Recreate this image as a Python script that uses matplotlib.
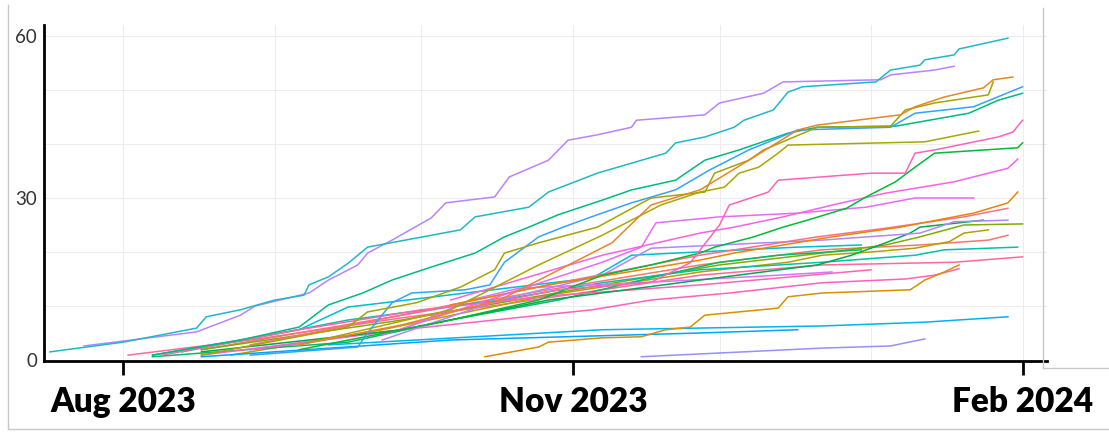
import matplotlib
matplotlib.use("Agg")
import matplotlib.pyplot as plt
import matplotlib.dates as mdates
from matplotlib.ticker import MultipleLocator, FixedLocator
from matplotlib.lines import Line2D
import pandas as pd

# cumulative count per person, as (days since 1 Aug 2023, running total)
a = [(-15, 1.5), (0, 3.3), (15, 5.9), (17, 8.0), (24, 9.3), (31, 11.1), (37, 12.0), (38, 13.9),
     (42, 15.4), (46, 17.9), (50, 20.9), (69, 24.1), (72, 26.5), (83, 28.3), (87, 31.1),
     (97, 34.6), (111, 38.3), (113, 40.2), (119, 41.3), (125, 43.1), (127, 44.4), (133, 46.3),
     (136, 49.6), (139, 50.6), (154, 51.5), (157, 53.7), (163, 54.6), (164, 55.6), (170, 56.5),
     (171, 57.6), (181, 59.6)]
b = [(-8, 2.6), (15, 5.2), (24, 8.3), (27, 10.0), (38, 12.4), (42, 14.8), (48, 17.6), (50, 19.8),
     (55, 22.2), (63, 26.3), (66, 29.1), (76, 30.2), (79, 33.9), (87, 37.0), (91, 40.7),
     (97, 41.7), (104, 43.1), (105, 44.4), (119, 45.4), (122, 47.6), (131, 49.4), (135, 51.5),
     (155, 51.9), (157, 52.8), (166, 53.7), (170, 54.4)]
c = [(36, 2.8), (57, 6.5), (77, 11.1), (87, 15.7), (100, 21.7), (108, 28.7), (118, 31.5),
     (122, 33.7), (128, 37.0), (138, 42.6), (142, 43.5), (159, 45.4), (162, 46.9), (168, 48.7),
     (176, 50.4), (178, 51.9), (182, 52.4)]
d = [(16, 0.9), (46, 6.1), (50, 8.9), (60, 10.6), (69, 13.5), (76, 16.7), (78, 19.8), (85, 21.7),
     (97, 24.6), (108, 30.0), (119, 31.1), (121, 34.6), (128, 37.0), (131, 38.9), (142, 43.1),
     (157, 43.3), (160, 46.3), (166, 47.6), (177, 49.1), (178, 51.5)]
e = [(26, 0.9), (48, 2.4), (50, 5.0), (55, 10.6), (59, 12.4), (70, 13.0), (75, 13.9), (78, 18.1),
     (85, 22.8), (90, 24.6), (97, 26.9), (104, 29.1), (113, 31.5), (120, 35.2), (128, 38.9),
     (138, 42.6), (157, 43.1), (162, 45.7), (174, 46.9), (184, 50.6)]
f = [(6, 0.9), (24, 3.7), (36, 6.1), (42, 10.2), (49, 12.4), (55, 14.8), (63, 17.2), (72, 19.8),
     (78, 22.8), (83, 24.6), (89, 26.9), (98, 29.6), (104, 31.5), (113, 33.3), (119, 37.0),
     (126, 38.9), (136, 42.0), (142, 43.1), (158, 43.3), (173, 45.7), (179, 48.1), (184, 49.4)]
g = [(36, 2.8), (67, 9.3), (85, 17.6), (98, 23.1), (110, 28.7), (118, 31.1), (123, 32.0),
     (126, 34.6), (130, 35.7), (134, 38.3), (136, 39.8), (164, 40.4), (175, 42.4)]
h = [(63, 8.3), (89, 13.0), (108, 14.4), (116, 18.0), (122, 25.0), (124, 28.7), (132, 31.1),
     (134, 33.3), (153, 34.6), (160, 34.6), (162, 38.3), (166, 38.9), (179, 41.3), (182, 42.2),
     (184, 44.4)]
i = [(36, 1.9), (67, 7.4), (85, 11.1), (98, 15.7), (108, 17.6), (118, 19.8), (121, 20.9),
     (129, 22.8), (135, 24.6), (140, 25.9), (148, 28.1), (152, 30.2), (158, 33.0), (162, 35.7),
     (164, 37.0), (166, 38.3), (183, 39.3), (184, 40.2)]
j = [(67, 11.1), (98, 19.4), (118, 23.5), (125, 24.6), (135, 26.5), (147, 29.1), (156, 30.9),
     (170, 33.0), (177, 34.6), (181, 35.5), (183, 37.2)]
k = [(53, 4.6), (81, 13.0), (98, 18.1), (106, 20.9), (109, 25.4), (122, 26.5), (138, 27.2),
     (152, 28.3), (162, 30.0), (174, 30.0)]
l = [(67, 10.2), (87, 13.9), (106, 16.7), (118, 18.5), (125, 19.8), (135, 21.3), (145, 22.8),
     (159, 24.6), (174, 27.2), (181, 29.1), (183, 31.1)]
m = [(8, 0.9), (36, 5.6), (61, 9.3), (89, 12.0), (118, 13.9), (153, 16.7)]
n = [(26, 2.8), (57, 8.3), (87, 13.9), (118, 19.4), (142, 22.8), (156, 24.4), (172, 26.5),
     (181, 28.1)]
o = [(16, 1.5), (57, 5.6), (87, 11.1), (118, 14.8), (142, 17.6), (149, 19.4), (156, 21.7),
     (161, 23.5), (163, 24.6), (176, 25.9)]
p = [(53, 3.7), (77, 11.1), (98, 15.7), (108, 20.7), (143, 22.2), (163, 23.5), (170, 25.6),
     (181, 25.9)]
q = [(16, 1.9), (57, 7.4), (98, 13.9), (122, 17.6), (143, 19.8), (156, 21.3), (163, 22.8),
     (172, 25.0), (184, 25.2)]
r = [(22, 0.9), (53, 5.6), (87, 12.0), (118, 16.3), (136, 18.1), (143, 19.4), (153, 20.0),
     (162, 20.7), (169, 21.9), (172, 23.5), (177, 24.1)]
s = [(16, 1.9), (57, 8.3), (87, 13.0), (118, 17.6), (143, 20.4), (163, 21.3), (177, 22.2),
     (181, 23.1)]
t = [(12, 1.5), (46, 7.4), (77, 11.1), (98, 14.3), (118, 16.7), (143, 18.1), (162, 19.4),
     (168, 20.4), (183, 20.9)]
u = [(1, 0.9), (26, 3.7), (57, 7.8), (77, 10.2), (98, 13.0), (118, 15.7), (143, 17.6),
     (170, 18.1), (184, 19.1)]
v = [(74, 0.6), (85, 2.4), (87, 3.3), (98, 4.1), (106, 4.3), (111, 5.6), (116, 6.1), (119, 8.3),
     (134, 9.6), (136, 11.7), (143, 12.4), (161, 13.0), (164, 14.8), (168, 16.3), (171, 17.6)]
w = [(16, 0.9), (57, 5.6), (96, 9.3), (108, 11.1), (124, 12.4), (143, 14.3), (160, 15.0),
     (166, 15.7), (171, 16.9)]
x1 = [(42, 2.8), (98, 5.6), (143, 6.3), (164, 7.0), (181, 8.0)]
x2 = [(16, 0.6), (67, 3.7), (118, 5.0), (138, 5.6)]
y = [(106, 0.6), (143, 2.2), (157, 2.6), (164, 3.9)]
z1 = [(6, 0.9), (36, 5.6), (46, 9.8), (96, 15.2), (104, 19.4), (138, 20.9), (151, 21.3)]
z2 = [(6, 0.6), (46, 3.3), (67, 7.4), (89, 11.1), (106, 14.8), (122, 18.1), (134, 19.4),
      (151, 20.4)]
z3 = [(26, 1.9), (57, 5.6), (71, 11.1), (81, 13.3), (108, 14.4), (134, 15.7), (145, 16.3)]

series = [
    (u, "#FF6A98"), (s, "#F8766D"), (r, "#B79F00"), (q, "#7CAE00"), (t, "#00C1AA"),
    (x2, "#00A5FF"), (x1, "#00B4EF"), (y, "#9590FF"), (z1, "#00BDD0"), (z2, "#00BE67"),
    (z3, "#DB72FB"), (m, "#FF64B0"), (w, "#FF61C3"), (v, "#D89000"), (o, "#00A84F"),
    (p, "#B385FF"), (n, "#FF6C91"), (l, "#E58700"), (k, "#E76BF3"), (j, "#F564E3"),
    (i, "#00BA38"), (h, "#FF62BC"), (g, "#A8A800"), (f, "#00BA82"), (e, "#35A2FF"),
    (d, "#A3A500"), (c, "#E88526"), (b, "#B983FF"), (a, "#1FB8C8"),
]

start = pd.Timestamp("2023-08-01")

fig = plt.figure(figsize=(11.09, 4.33), dpi=100)
ax = fig.add_axes([44 / 1109, 72 / 433, 1003 / 1109, 336 / 433])

for pts, col in series:
    days = [pt[0] for pt in pts]
    vals = [pt[1] for pt in pts]
    ax.plot(start + pd.to_timedelta(days, unit="D"), vals, color=col, lw=1.1,
            solid_joinstyle="round")

ax.set_xlim(start - pd.Timedelta(days=16.2), start + pd.Timedelta(days=189))
ax.set_ylim(-0.19, 62.04)

ax.xaxis.set_major_locator(mdates.MonthLocator(bymonth=[2, 8, 11]))
ax.xaxis.set_major_formatter(mdates.DateFormatter("%b %Y"))
ax.xaxis.set_minor_locator(mdates.MonthLocator())
ax.yaxis.set_major_locator(FixedLocator([0, 30, 60]))
ax.yaxis.set_minor_locator(MultipleLocator(10))

ax.grid(which="both", color="#EDEDED", lw=0.8)
ax.set_axisbelow(True)

for side in ("top", "right"):
    ax.spines[side].set_visible(False)
for side in ("left", "bottom"):
    ax.spines[side].set_color("black")
    ax.spines[side].set_linewidth(2)

ax.tick_params(axis="x", which="major", length=10, width=2, color="black", pad=8)
ax.tick_params(axis="x", which="minor", length=0)
ax.tick_params(axis="y", which="both", length=0, pad=5)
for lab in ax.get_xticklabels():
    lab.set_fontfamily("Lato")
    lab.set_fontweight("heavy")
    lab.set_fontsize(24)
for lab in ax.get_yticklabels():
    lab.set_fontfamily("Lato")
    lab.set_fontsize(13.5)
    lab.set_color("#333333")

# light panel border around the plot
def px_line(x0, y0, x1_, y1_):
    fig.add_artist(Line2D([x0 / 1109, x1_ / 1109], [1 - y0 / 433, 1 - y1_ / 433],
                          color="#C8C8C8", lw=1))

px_line(8, 5, 8, 428)
px_line(8, 429, 1109, 429)
px_line(1043, 8, 1043, 368)
px_line(1043, 368, 1109, 368)

fig.savefig("out.png", dpi=100)
